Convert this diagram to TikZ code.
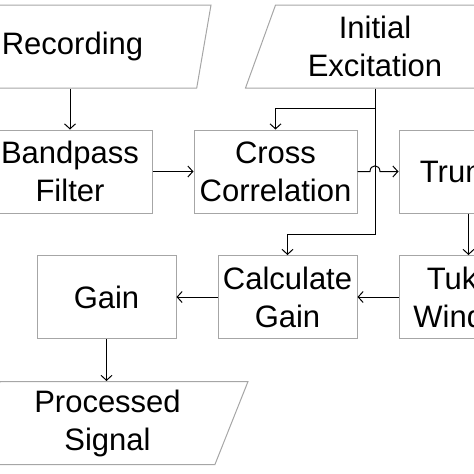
\documentclass[tikz,border=0pt]{standalone}
\usepackage{fontspec}
\setmainfont{Liberation Sans}
\usepackage{tikz}
\usetikzlibrary{arrows.meta,positioning,shapes.geometric,calc}

\tikzset{
  block/.style={draw=gray!70,line width=1pt,shape=rectangle,minimum height=83pt,inner sep=0pt,align=center,font=\fontsize{31}{38}\selectfont},
  io/.style={draw=gray!70,line width=1pt,shape=trapezium,trapezium left angle=63.7,trapezium right angle=116.3,trapezium stretches body,minimum height=83pt,inner sep=0pt,align=center,font=\fontsize{31}{38}\selectfont},
  flow/.style={line width=1pt,-{Straight Barb[length=5pt,width=11pt]}}
}

\begin{document}
\begin{tikzpicture}[x=1pt,y=-1pt]
  \useasboundingbox (0,0) rectangle (474,474);
  \clip (0,0) rectangle (474,474);
  % Inputs and output
  \node[io,minimum width=277pt] (rec) at (72.5,46.5) {Recording};
  \node[io,minimum width=259pt] (ini) at (375,46.5) {Initial\\Excitation};
  \node[io,minimum width=281pt] (pro) at (107.5,423) {Processed\\Signal};
  % Processing steps
  \node[block,minimum width=164pt] (band) at (70,171.5) {Bandpass\\Filter};
  \node[block,minimum width=163pt] (cross) at (275.5,171.5) {Cross\\Correlation};
  \node[block,minimum width=163pt] (trunc) at (480.5,171.5) {Truncate};
  \node[block,minimum width=139pt] (tukey) at (468.5,297) {Tukey\\Window};
  \node[block,minimum width=139pt] (calc) at (287.5,297) {Calculate\\Gain};
  \node[block,minimum width=139pt] (gain) at (106.5,297) {Gain};
  % Connections
  \draw[flow] (band.north |- rec.south) -- (band.north);
  \draw[flow] (band) -- (cross);
  \draw[flow] (ini.south) -- (ini.south |- 0,108) -| (cross.north);
  \draw[flow] (ini.south) -- (ini.south |- 0,234) -| (calc.north);
  \draw[flow] (cross.east) -- (370,171.5) .. controls (370,164) and (380,164) .. (380,171.5) -- (trunc.west);
  \draw[flow] (trunc.south -| tukey.north) -- (tukey.north);
  \draw[flow] (tukey) -- (calc);
  \draw[flow] (calc) -- (gain);
  \draw[flow] (gain.south) -- (gain.south |- pro.north);
\end{tikzpicture}
\end{document}
